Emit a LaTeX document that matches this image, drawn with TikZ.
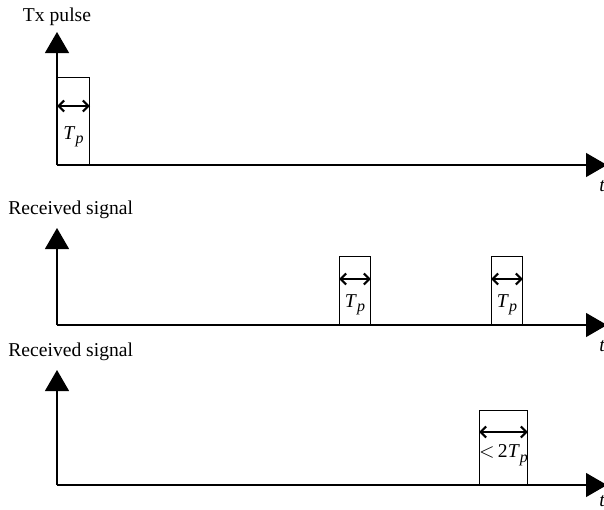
\documentclass[tikz,border=0pt]{standalone}
\usepackage{fontspec}
\setmainfont{Liberation Serif}
\usetikzlibrary{arrows.meta, positioning}

\newcommand{\Tp}{\textit{T}\raisebox{-0.5ex}{\fontsize{8}{9}\selectfont\textit{p}}}

\begin{document}
\begin{tikzpicture}[
    x=0.5pt, y=-0.5pt,
    axis/.style={line width=0.6pt, -{Triangle[length=10.5pt, width=12pt]}},
    pulse/.style={draw, line width=0.5pt, anchor=south west, inner sep=0pt},
    span/.style={{Straight Barb[length=2.8pt, width=5.5pt]}-{Straight Barb[length=2.8pt, width=5.5pt]}, line width=1.1pt},
    lbl/.style={font=\fontsize{9.8}{11}\selectfont, inner sep=0pt},
]
\useasboundingbox (0,0) rectangle (604,509);

% ---- Tx pulse ----
\coordinate (o1) at (57,165);
\coordinate (y1) at (57,32);
\coordinate (x1) at (607,165);
\draw[axis] (o1) -- (y1);
\draw[axis] (o1) -- (x1);
\node[lbl, above=3pt of y1] (tx) {Tx pulse};
\node[lbl, font=\fontsize{9.8}{11}\selectfont\itshape] (t1) at (602,186) {t};

\node[pulse, minimum width=16pt, minimum height=43.5pt] (p1) at (o1) {};
\draw[span] ([yshift=-14.5pt]p1.north west) -- ([yshift=-14.5pt]p1.north east);
\node[lbl] (l1) at ([yshift=-30pt]p1.north) {\Tp};

% ---- Received signal ----
\coordinate (o2) at (57,325);
\coordinate (y2) at (57,228);
\coordinate (x2) at (607,325);
\draw[axis] (o2) -- (y2);
\draw[axis] (o2) -- (x2);
\node[lbl, anchor=west] (rx1) at (8,210) {Received signal};
\node[lbl, font=\fontsize{9.8}{11}\selectfont\itshape] (t2) at (602,346) {t};

\node[pulse, minimum width=15.5pt, minimum height=34pt] (p2) at (339,325) {};
\node[pulse, minimum width=15.5pt, minimum height=34pt] (p3) at (491,325) {};
\draw[span] ([yshift=-11.5pt]p2.north west) -- ([yshift=-11.5pt]p2.north east);
\draw[span] ([yshift=-11.5pt]p3.north west) -- ([yshift=-11.5pt]p3.north east);
\node[lbl] (l2) at ([yshift=-24.5pt]p2.north) {\Tp};
\node[lbl] (l3) at ([yshift=-24.5pt]p3.north) {\Tp};

% ---- Received signal (overlap) ----
\coordinate (o3) at (57,485);
\coordinate (y3) at (57,370);
\coordinate (x3) at (607,485);
\draw[axis] (o3) -- (y3);
\draw[axis] (o3) -- (x3);
\node[lbl, anchor=west] (rx2) at (8,352) {Received signal};
\node[lbl, font=\fontsize{9.8}{11}\selectfont\itshape] (t3) at (602,501) {t};

\node[pulse, minimum width=24pt, minimum height=37pt] (p4) at (479,485) {};
\draw[span] ([yshift=-11pt]p4.north west) -- ([yshift=-11pt]p4.north east);
\node[lbl] (l4) at ([yshift=-22.5pt]p4.north) {$<$\,2\Tp};

\end{tikzpicture}
\end{document}
